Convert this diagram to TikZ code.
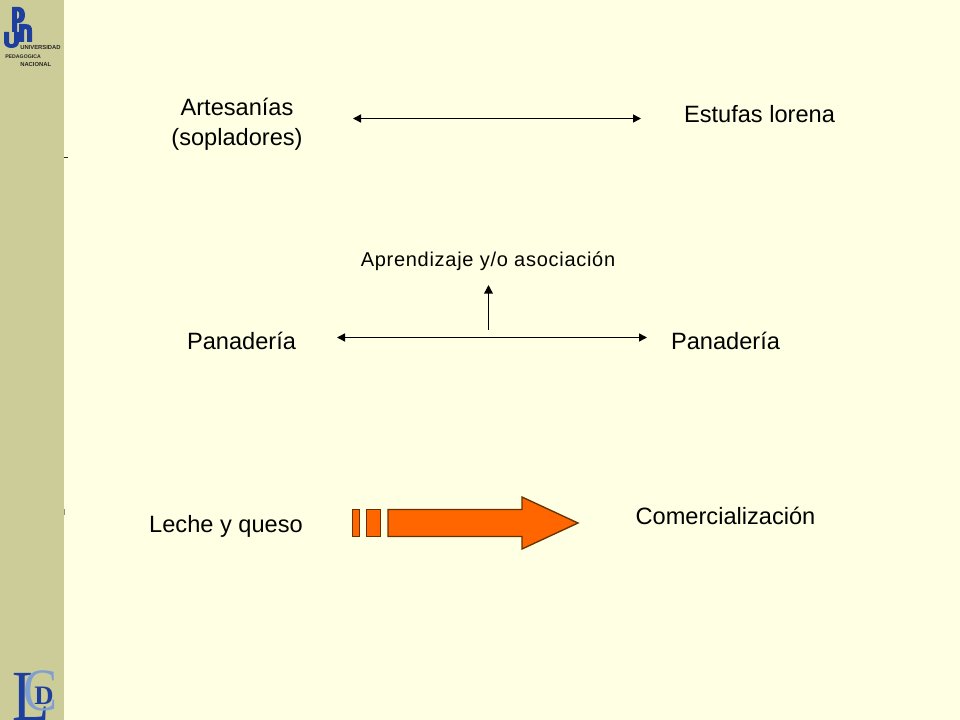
\documentclass[tikz,border=0pt]{standalone}
\usepackage{fontspec}
\setmainfont{Liberation Sans}
\newfontfamily\logoserif{Liberation Serif}
\newfontfamily\spacedsans[LetterSpace=3.6]{Liberation Sans}
\usetikzlibrary{arrows.meta}
\definecolor{bgc}{HTML}{FFFFE3}
\definecolor{band}{HTML}{CCCC99}
\definecolor{org}{HTML}{FF6600}
\definecolor{orgl}{HTML}{663300}
\definecolor{logob}{HTML}{1F3F9F}
\definecolor{logol}{HTML}{7F9FD0}
\tikzset{
 x=0.75pt,y=-0.75pt,
 lab/.style={inner sep=0pt,align=center,font=\fontsize{17.7}{22.5}\selectfont,text=black},
 small/.style={inner sep=0pt,font=\spacedsans\fontsize{15}{17}\selectfont,text=black},
 dbl/.style={draw=black,line width=1.1pt,{Triangle[length=6pt,width=6pt]}-{Triangle[length=6pt,width=6pt]}},
 sgl/.style={draw=black,line width=1.1pt,-{Triangle[length=6.5pt,width=6.5pt]}},
 blk/.style={fill=org,draw=orgl,line width=1pt},
 uni/.style={inner sep=0pt,font=\fontsize{4.4}{5}\selectfont\bfseries,text=black!85},
}
\begin{document}
\begin{tikzpicture}
\useasboundingbox (0,0) rectangle (960,720);
\fill[bgc] (0,0) rectangle (960,720);
\fill[band] (0,0) rectangle (64,720);
\fill[black!85] (64,157) rectangle (68,158.5);
\fill[black!45] (63.5,509) rectangle (65,515);
% UPN logo
\fill[logob] (12,7) -- (19,7) .. controls (27,7) and (27,23) .. (19,23) -- (17,23) -- (17,32) -- (12,32) -- cycle;
\fill[band] (17,11) .. controls (20,11) and (20,19) .. (17,19) -- cycle;
\fill[logob] (4,32) -- (9,32) -- (9,42) .. controls (9,45) and (14,45) .. (14,42) -- (14,32) -- (19,32) -- (19,42) .. controls (19,50) and (4,50) .. (4,42) -- cycle;
\fill[logob] (19,24) -- (25,24) .. controls (31,24) and (32,27) .. (32,31) -- (32,42) -- (27,42) -- (27,31) .. controls (27,28) and (24,28) .. (24,31) -- (24,42) -- (19,42) -- cycle;
\node[uni,anchor=west] (u1) at (20,47) {UNIVERSIDAD};
\node[uni,anchor=west,font=\fontsize{3.9}{5}\selectfont\bfseries] (u2) at (5,56.5) {PEDAGOGICA};
\node[uni,anchor=west] (u3) at (20,64.5) {NACIONAL};
% LCD logo
\node[inner sep=0pt,text=logob,xscale=0.85,font=\logoserif\fontsize{54}{54}\selectfont] (lL) at (31,697) {L};
\node[inner sep=0pt,text=logol,xscale=0.85,font=\logoserif\fontsize{45}{45}\selectfont] (lC) at (41,691) {C};
\node[inner sep=0pt,text=logob,font=\logoserif\fontsize{20}{20}\selectfont\bfseries] (lD) at (44,696) {D};
% labels
\node[lab] (art) at (237,124.5) {Artesanías\\(sopladores)};
\node[lab] (est) at (759.5,114.5) {Estufas lorena};
\node[small] (apr) at (488,261.5) {Aprendizaje y/o asociación};
\node[lab] (p1) at (241.5,341) {Panadería};
\node[lab] (p2) at (725.5,341) {Panadería};
\node[lab] (lq) at (226,526) {Leche y queso};
\node[lab] (com) at (725.5,516) {Comercialización};
% connectors
\coordinate (a1) at (353,118.5); \coordinate (a2) at (641,118.5);
\draw[dbl] (a1) -- (a2);
\coordinate (b1) at (337,337.5); \coordinate (b2) at (647,337.5);
\draw[dbl] (b1) -- (b2);
\coordinate (c1) at (488.5,330); \coordinate (c2) at (488.5,285);
\draw[sgl] (c1) -- (c2);
% block arrow
\draw[blk] (352.5,509.5) rectangle (359.5,536.5);
\draw[blk] (366.5,509.5) rectangle (380.5,536.5);
\draw[blk] (388,509.5) -- (522,509.5) -- (522,497) -- (578,523) -- (522,549) -- (522,536.5) -- (388,536.5) -- cycle;
\end{tikzpicture}
\end{document}
